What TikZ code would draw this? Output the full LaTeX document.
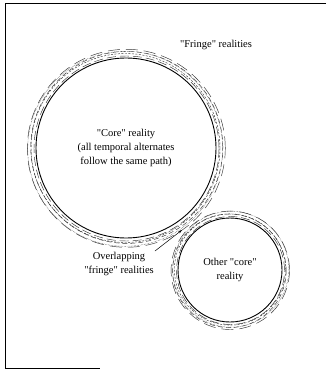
\documentclass[tikz,border=0pt]{standalone}
\usepackage{fontspec}
\setmainfont{Liberation Serif}
\usetikzlibrary{arrows.meta, positioning}
\newcommand{\qq}{\textquotedbl}

\begin{document}
\begin{tikzpicture}[x=1pt,y=-1pt,font=\fontsize{10.5}{14}\selectfont,
  corering/.style={circle,draw,line width=0.9pt,align=center,inner sep=0pt},
  fringering/.style={line width=0.45pt,black!80},
  fringeA/.style={dash pattern=on 9pt off 4pt},
  fringeB/.style={dash pattern=on 2pt off 1.5pt},
  fringeC/.style={dash pattern=on 5pt off 3pt},
  fringeD/.style={densely dotted},
  fringeE/.style={dash pattern=on 12pt off 6pt},
  label/.style={align=center,inner sep=1pt}]
  \useasboundingbox (0,0) rectangle (326,374);

  % frame
  \draw[line width=0.8pt] (326,3) -- (5,3) -- (5,368) -- (100,368);

  % core realities
  \node[corering,minimum size=180pt] (core) at (126,148)
    {\qq Core\qq{} reality\\(all temporal alternates\\follow the same path)};
  \node[corering,minimum size=104pt] (other) at (230,270)
    {Other \qq core\qq\\reality};

  % fringe realities
  \foreach \dr/\dx/\dy/\pat in {2.5/0.5/0.5/fringeA, 4.5/-0.5/0/fringeB,
      6/0.8/-0.6/fringeC, 7.5/-0.8/0.8/fringeD, 9/0.3/0.3/fringeE} {
    \draw[fringering,\pat] ([shift={(\dx,\dy)}]core.center) circle[radius=90pt+\dr pt];
    \draw[fringering,\pat] ([shift={(\dy,\dx)}]other.center) circle[radius=52pt+0.8*\dr pt];
  }

  % texts
  \node[label] (fringe) at (216,45) {\qq Fringe\qq{} realities};
  \node[label] (ovl) at (119,264) {Overlapping\\\qq fringe\qq{} realities};
  \coordinate (meet) at (182,230);
  \draw[-{Stealth[length=4pt,width=2.5pt]},line width=0.5pt] (ovl.north east) -- (meet);
\end{tikzpicture}
\end{document}
